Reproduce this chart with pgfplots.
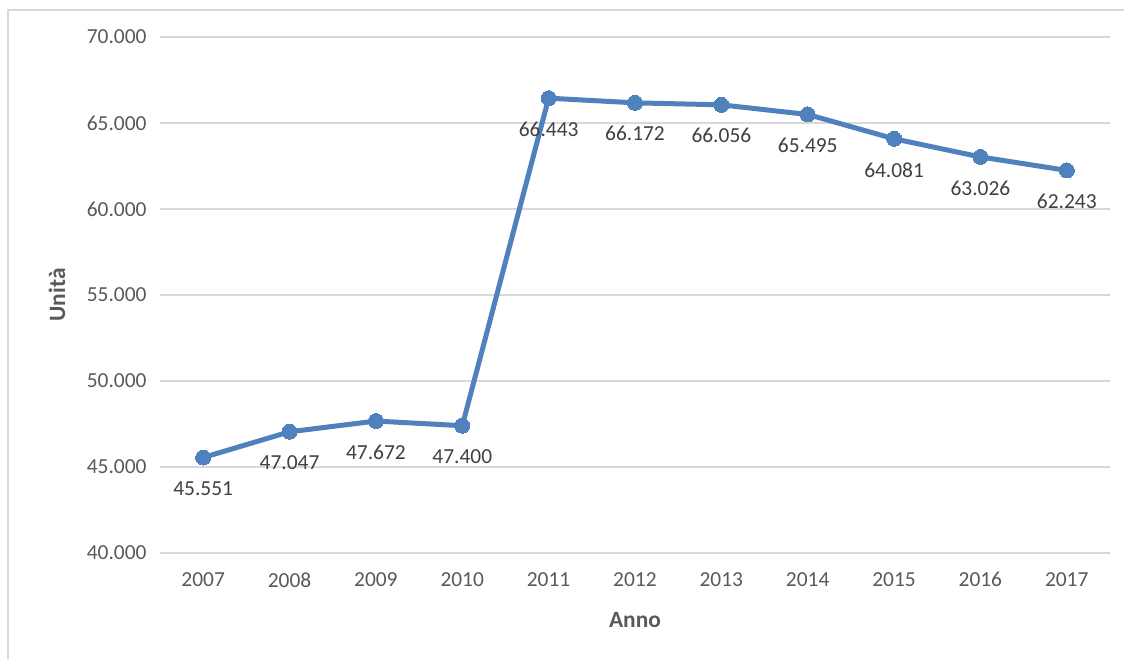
\documentclass[border=0pt]{standalone}
\usepackage{pgfplots}
\pgfplotsset{compat=1.18}
\usepackage{fontspec}
\setmainfont{Carlito}

\definecolor{serie}{HTML}{4F81BD}
\definecolor{griglia}{HTML}{D9D9D9}
\definecolor{testo}{HTML}{595959}
\definecolor{etichetta}{HTML}{404040}

\begin{document}
\begin{tikzpicture}
\path[use as bounding box] (0,0) rectangle (1124bp,659bp);
\draw[griglia, line width=2bp] (8bp,-10bp) |- (1140bp,649bp);
\begin{axis}[
    at={(160bp,106bp)}, anchor=south west,
    scale only axis,
    width=950bp, height=516bp,
    xmin=2006.5, xmax=2017.5,
    ymin=40000, ymax=70000,
    xtick={2007,...,2017},
    ytick={40000,45000,...,70000},
    scaled y ticks=false,
    axis line style={draw=none},
    major tick length=0pt,
    ymajorgrids,
    grid style={griglia, line width=2bp},
    /pgf/number format/assume math mode=true,
    /pgf/number format/fixed,
    /pgf/number format/1000 sep={.},
    tick label style={font=\fontsize{21.5}{26}\selectfont, text=testo},
    x tick label style={/pgf/number format/1000 sep={}, yshift=-16bp},
    y tick label style={xshift=-10bp},
    xlabel={Anno}, ylabel={Unità},
    label style={font=\fontsize{23.5}{28}\selectfont\bfseries, text=testo},
    xlabel style={at={(axis description cs:0.5,-0.1298)}, anchor=center},
    ylabel style={at={(axis description cs:-0.1084,0.5)}, anchor=center},
    nodes near coords,
    every node near coord/.append style={font=\fontsize{21.5}{26}\selectfont, text=etichetta, anchor=center, yshift=-31bp},
    clip=false,
]
\addplot[serie, line width=5bp, mark=*, mark size=7.5bp, mark options={fill=serie, draw=serie, line width=0pt}]
coordinates {
(2007,45551) (2008,47047) (2009,47672) (2010,47400) (2011,66443) (2012,66172)
(2013,66056) (2014,65495) (2015,64081) (2016,63026) (2017,62243)
};
\end{axis}
\end{tikzpicture}
\end{document}
